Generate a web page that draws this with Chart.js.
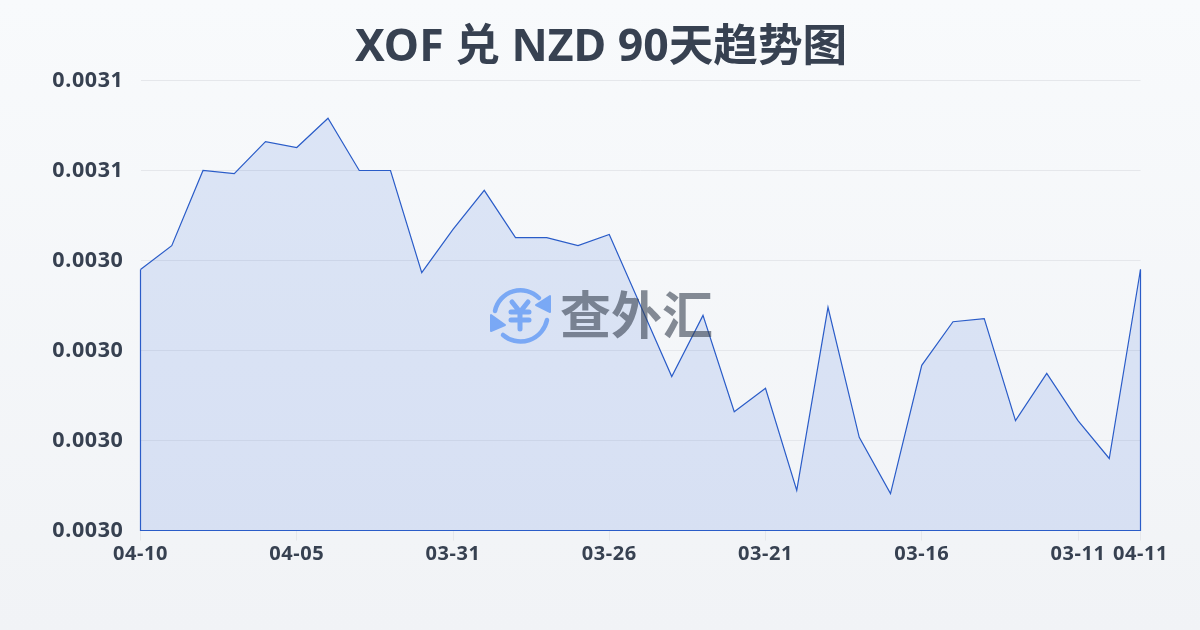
<!DOCTYPE html>
<html>
<head>
<meta charset="utf-8">
<title>XOF 兑 NZD 90天趋势图</title>
<script src="https://cdn.jsdelivr.net/npm/chart.js@4/dist/chart.umd.js"></script>
<style>
    html, body { margin: 0; padding: 0; }
    body { width: 1200px; height: 630px; overflow: hidden; position: relative; background: linear-gradient(180deg, #f8fafc, #f1f3f6); }
    h1 { position: absolute; left: 1px; top: 14px; width: 1200px; margin: 0; text-align: center; font: 700 44.6px/60px "Noto Sans", "Noto Sans CJK SC"; color: #374151; }
    #watermark { position: absolute; left: 488px; top: 283px; width: 230px; height: 64px; opacity: 0.6; }
    #watermark span { position: absolute; left: 72px; top: -3px; font: 700 51px/64px "Noto Sans CJK SC"; color: #374151; white-space: nowrap; }
    #watermark svg { position: absolute; left: 0; top: 0; }
    canvas { position: absolute; left: 0; top: 0; }
</style>
</head>
<body>
<canvas id="chart" width="1200" height="630"></canvas>
<h1 id="title"></h1>
<div id="watermark">
    <svg width="64" height="64" viewBox="0 0 64 64" fill="none" stroke="#3b82f6" stroke-width="4.5" stroke-linecap="round" stroke-linejoin="round">
        <path d="M7 28 A26 26 0 0 1 51 15"/>
        <path d="M59 37 A27 27 0 0 1 15 52"/>
        <path d="M62 13 V29 L48 22 Z" fill="#3b82f6" stroke-width="2"/>
        <path d="M3 32 V48 L17 42 Z" fill="#3b82f6" stroke-width="2"/>
        <path d="M24 19 L32 29 L40 19 M32 29 V46 M23 29 H41 M23 37 H41" stroke-width="5"/>
    </svg>
    <span>查外汇</span>
</div>
<script>
const title = 'XOF 兑 NZD 90天趋势图';

const dates = [
    '04-10', '04-09', '04-08', '04-07', '04-06', '04-05', '04-04', '04-03', '04-02', '04-01', '03-31',
    '03-30', '03-29', '03-28', '03-27', '03-26', '03-25', '03-24', '03-23', '03-22', '03-21',
    '03-20', '03-19', '03-18', '03-17', '03-16', '03-15', '03-14', '03-13', '03-12', '03-11',
    '03-10', '04-11'
];

const rates = [
    0.003038, 0.0030433, 0.00306, 0.0030593, 0.0030664, 0.0030651, 0.0030716, 0.00306, 0.00306, 0.0030373, 0.0030469,
    0.0030556, 0.0030451, 0.0030451, 0.0030433, 0.0030458, 0.00303, 0.0030142, 0.0030278, 0.0030064, 0.0030116,
    0.0029889, 0.0030296, 0.0030007, 0.0029882, 0.0030167, 0.0030264, 0.0030271, 0.0030044, 0.0030149, 0.0030044,
    0.002996, 0.003038
];

const textColor = '#374151';
const lineColor = '#2a5cc8';

document.getElementById('title').textContent = title;

// the outline also runs down both sides and along the bottom
const outline = {
    id: 'outline',
    beforeDraw (chart) {
        // tick labels sit a little wider in the reference
        chart.ctx.letterSpacing = '0.6px';
    },
    afterDatasetsDraw (chart) {
        const pts = chart.getDatasetMeta(0).data;
        const area = chart.chartArea;
        const ctx = chart.ctx;
        ctx.save();
        ctx.strokeStyle = lineColor;
        ctx.lineWidth = 1.2;
        ctx.beginPath();
        ctx.moveTo(pts[0].x, pts[0].y);
        ctx.lineTo(pts[0].x, area.bottom);
        ctx.lineTo(pts[pts.length - 1].x, area.bottom);
        ctx.lineTo(pts[pts.length - 1].x, pts[pts.length - 1].y);
        ctx.stroke();
        ctx.restore();
    }
};

new Chart(document.getElementById('chart'), {
    type: 'line',
    plugins: [outline],
    data: {
        labels: dates,
        datasets: [{
            data: rates,
            borderColor: lineColor,
            borderWidth: 1.2,
            backgroundColor: 'rgba(37, 90, 215, 0.13)',
            fill: 'start',
            tension: 0,
            pointRadius: 0
        }]
    },
    options: {
        responsive: false,
        animation: false,
        layout: { padding: { left: 0, right: 59.5, top: 80.5, bottom: 0 } },
        plugins: {
            legend: { display: false },
            tooltip: { enabled: false }
        },
        scales: {
            x: {
                offset: false,
                afterFit: scale => { scale.height = 99.5; },
                afterBuildTicks: scale => {
                    scale.ticks = scale.ticks.filter((t, i) => i % 5 === 0 && i < dates.length - 2 || i === dates.length - 1);
                },
                grid: { drawOnChartArea: false, color: '#e5e7eb', tickLength: 10 },
                border: { display: false },
                ticks: {
                    autoSkip: false,
                    maxRotation: 0,
                    padding: 2,
                    color: textColor,
                    font: { family: '"Noto Sans", sans-serif', size: 20, weight: 'bold' }
                }
            },
            y: {
                min: 0.00298,
                max: 0.00308,
                afterFit: scale => { scale.width = 140.5; },
                grid: { color: '#e5e7eb', drawTicks: false },
                border: { display: false },
                ticks: {
                    stepSize: 0.00002,
                    padding: 17,
                    color: textColor,
                    font: { family: '"Noto Sans", sans-serif', size: 21.5, weight: 'bold' },
                    callback: v => v.toFixed(4)
                }
            }
        }
    }
});
</script>
</body>
</html>
